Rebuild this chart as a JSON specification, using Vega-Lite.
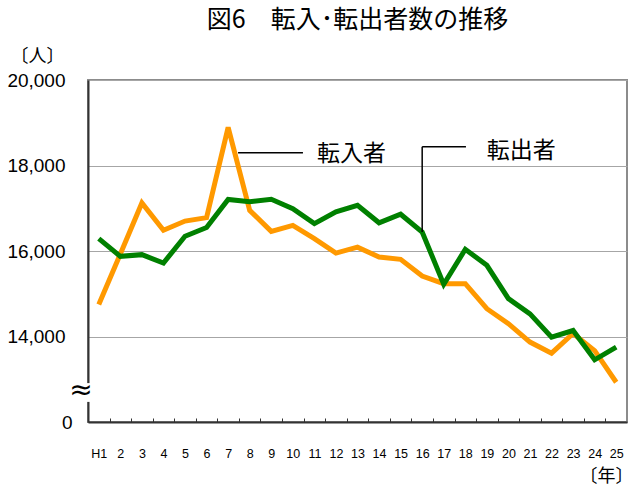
{
  "$schema": "https://vega.github.io/schema/vega-lite/v6.json",
  "width": 539,
  "height": 342,
  "autosize": {"type": "none"},
  "padding": {"left": 88, "top": 80, "right": 7, "bottom": 66},
  "background": "white",
  "config": {
    "view": {"stroke": "#8c8c8c", "strokeWidth": 2},
    "font": "Liberation Sans"
  },
  "title": {
    "text": "図6　転入･転出者数の推移",
    "font": "Noto Sans CJK JP",
    "fontSize": 25,
    "fontWeight": "normal",
    "color": "black",
    "anchor": "middle",
    "offset": 14
  },
  "encoding": {
    "x": {
      "field": "t",
      "type": "quantitative",
      "scale": {"domain": [-0.5, 24.5], "nice": false, "zero": false},
      "axis": {
        "values": [-0.5, 0.5, 1.5, 2.5, 3.5, 4.5, 5.5, 6.5, 7.5, 8.5, 9.5, 10.5, 11.5, 12.5, 13.5, 14.5, 15.5, 16.5, 17.5, 18.5, 19.5, 20.5, 21.5, 22.5, 23.5],
        "labelExpr": "datum.value < 0 ? 'H1' : '' + (datum.value + 1.5)",
        "labelOffset": 10.78,
        "tickSize": -4,
        "tickColor": "#333333",
        "tickWidth": 1,
        "labelPadding": 29,
        "labelFontSize": 12.5,
        "labelColor": "black",
        "labelFlush": false,
        "labelOverlap": false,
        "labelBound": false,
        "domainColor": "#333333",
        "domainWidth": 2,
        "grid": false,
        "title": "〔年〕",
        "titleFont": "Noto Sans CJK JP",
        "titleFontSize": 18,
        "titleFontWeight": "normal",
        "titleColor": "black",
        "titleX": 545,
        "titleY": 54,
        "titleAlign": "right",
        "titleBaseline": "middle"
      }
    },
    "y": {
      "field": "v",
      "type": "quantitative",
      "scale": {"domain": [12000, 20000], "nice": false, "zero": false},
      "axis": {
        "values": [12000, 14000, 16000, 18000, 20000],
        "labelExpr": "datum.value == 12000 ? '0' : format(datum.value, ',')",
        "ticks": false,
        "labelPadding": {"condition": {"test": "datum.value == 12000", "value": 16}, "value": 23},
        "labelFontSize": 19,
        "labelColor": "black",
        "grid": true,
        "gridColor": "#a6a6a6",
        "gridWidth": 1,
        "domainColor": "#333333",
        "domainWidth": 2,
        "title": "〔人〕",
        "titleFont": "Noto Sans CJK JP",
        "titleFontSize": 18,
        "titleFontWeight": "normal",
        "titleColor": "black",
        "titleAngle": 0,
        "titleX": -51,
        "titleY": -24,
        "titleAlign": "center",
        "titleBaseline": "middle"
      }
    }
  },
  "layer": [
    {
      "data": {"values": [
        {"t": 0, "v": 14750}, {"t": 1, "v": 15930}, {"t": 2, "v": 17125}, {"t": 3, "v": 16485},
        {"t": 4, "v": 16700}, {"t": 5, "v": 16780}, {"t": 6, "v": 18890}, {"t": 7, "v": 16950},
        {"t": 8, "v": 16460}, {"t": 9, "v": 16600}, {"t": 10, "v": 16290}, {"t": 11, "v": 15950},
        {"t": 12, "v": 16090}, {"t": 13, "v": 15860}, {"t": 14, "v": 15805}, {"t": 15, "v": 15415},
        {"t": 16, "v": 15235}, {"t": 17, "v": 15235}, {"t": 18, "v": 14650}, {"t": 19, "v": 14300},
        {"t": 20, "v": 13870}, {"t": 21, "v": 13610}, {"t": 22, "v": 14070}, {"t": 23, "v": 13670},
        {"t": 24, "v": 12930}
      ]},
      "mark": {"type": "line", "color": "#ff9900", "strokeWidth": 5}
    },
    {
      "data": {"values": [
        {"t": 0, "v": 16290}, {"t": 1, "v": 15875}, {"t": 2, "v": 15915}, {"t": 3, "v": 15720},
        {"t": 4, "v": 16345}, {"t": 5, "v": 16550}, {"t": 6, "v": 17205}, {"t": 7, "v": 17150},
        {"t": 8, "v": 17210}, {"t": 9, "v": 16990}, {"t": 10, "v": 16640}, {"t": 11, "v": 16915},
        {"t": 12, "v": 17070}, {"t": 13, "v": 16660}, {"t": 14, "v": 16860}, {"t": 15, "v": 16445},
        {"t": 16, "v": 15220}, {"t": 17, "v": 16040}, {"t": 18, "v": 15665}, {"t": 19, "v": 14885},
        {"t": 20, "v": 14530}, {"t": 21, "v": 13985}, {"t": 22, "v": 14140}, {"t": 23, "v": 13455},
        {"t": 24, "v": 13750}
      ]},
      "mark": {"type": "line", "color": "#008000", "strokeWidth": 5}
    },
    {
      "data": {"values": [
        {"t": 6.46, "t2": 9.47, "v": 18296, "v2": 18296},
        {"t": 15, "t2": 17.03, "v": 18437, "v2": 18437},
        {"t": 15, "t2": 15, "v": 18437, "v2": 16445}
      ]},
      "mark": {"type": "rule", "color": "black", "strokeWidth": 1.5},
      "encoding": {
        "x2": {"field": "t2"},
        "y2": {"field": "v2"}
      }
    },
    {
      "data": {"values": [
        {"t": 10.12, "v": 18266, "label": "転入者"},
        {"t": 18.0, "v": 18336, "label": "転出者"}
      ]},
      "mark": {"type": "text", "align": "left", "baseline": "middle", "font": "Noto Sans CJK JP", "fontSize": 23, "color": "black"},
      "encoding": {"text": {"field": "label"}}
    },
    {
      "data": {"values": [{"t": -0.5, "t2": -0.5, "v": 12470, "v2": 12910}]},
      "mark": {"type": "rule", "color": "white", "strokeWidth": 6},
      "encoding": {
        "x2": {"field": "t2"},
        "y2": {"field": "v2"}
      }
    },
    {
      "data": {"values": [{"t": -0.825, "v": 12725, "label": "≈"}]},
      "mark": {"type": "text", "align": "center", "baseline": "middle", "font": "DejaVu Sans", "fontSize": 28, "color": "black"},
      "encoding": {"text": {"field": "label"}}
    }
  ]
}
